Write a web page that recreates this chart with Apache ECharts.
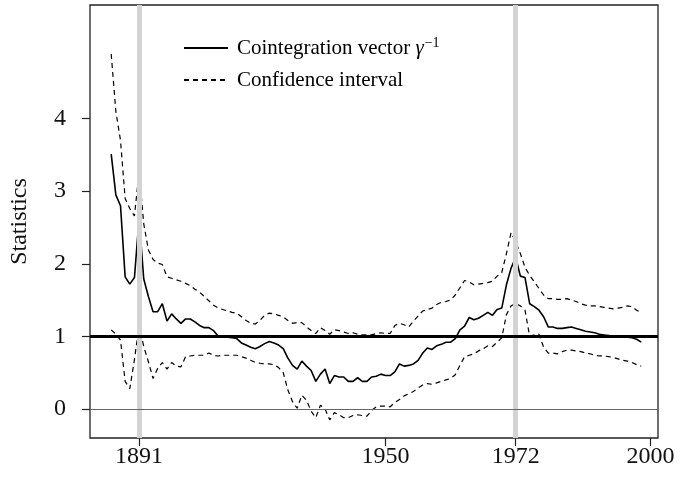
<!DOCTYPE html>
<html>
<head>
<meta charset="utf-8">
<script src="https://cdn.jsdelivr.net/npm/echarts@6/dist/echarts.min.js"></script>
<style>
  html, body { margin: 0; padding: 0; background: #fff; }
  #chart { width: 680px; height: 480px; }
</style>
</head>
<body>
<div id="chart"></div>
<script>
// x is the observation index (0 = first estimate); ticks are labelled with years
const tickIdx = [6, 59, 87, 116];
const tickText = ['1891', '1950', '1972', '2000'];
const yTicks = [0, 1, 2, 3, 4];
const breakIdx = [6, 87];

// cointegration vector gamma^-1
const gammaInv = [
  3.51, 2.95, 2.80, 1.82, 1.72, 1.81, 2.63, 1.79, 1.55, 1.34,
  1.34, 1.45, 1.21, 1.31, 1.24, 1.18, 1.24, 1.24, 1.20, 1.15,
  1.12, 1.12, 1.08, 1.00, 0.99, 0.99, 0.98, 0.97, 0.91, 0.88,
  0.85, 0.83, 0.86, 0.90, 0.93, 0.91, 0.88, 0.83, 0.70, 0.60,
  0.55, 0.66, 0.59, 0.53, 0.38, 0.48, 0.55, 0.35, 0.46, 0.44,
  0.44, 0.38, 0.38, 0.43, 0.38, 0.38, 0.44, 0.45, 0.48, 0.46,
  0.46, 0.51, 0.62, 0.59, 0.60, 0.62, 0.67, 0.77, 0.84, 0.82,
  0.87, 0.89, 0.92, 0.92, 0.97, 1.09, 1.14, 1.26, 1.23, 1.25,
  1.29, 1.33, 1.29, 1.37, 1.39, 1.71, 1.94, 2.09, 1.83, 1.81,
  1.45, 1.41, 1.36, 1.27, 1.13, 1.13, 1.11, 1.11, 1.12, 1.13,
  1.11, 1.09, 1.07, 1.06, 1.05, 1.03, 1.02, 1.01, 1.00, 1.00,
  1.00, 0.99, 0.98, 0.96, 0.92
];

// confidence band
const upper = [
  4.89, 4.10, 3.70, 2.90, 2.76, 2.66, 3.27, 2.55, 2.19, 2.06,
  2.01, 1.99, 1.82, 1.80, 1.78, 1.76, 1.73, 1.70, 1.65, 1.61,
  1.55, 1.49, 1.43, 1.39, 1.37, 1.35, 1.33, 1.32, 1.27, 1.22,
  1.18, 1.17, 1.22, 1.29, 1.32, 1.31, 1.29, 1.27, 1.22, 1.18,
  1.19, 1.19, 1.13, 1.08, 1.04, 1.12, 1.08, 1.03, 1.09, 1.08,
  1.06, 1.04, 1.05, 1.03, 1.02, 1.02, 1.02, 1.04, 1.05, 1.04,
  1.04, 1.15, 1.18, 1.16, 1.13, 1.21, 1.28, 1.35, 1.37, 1.39,
  1.44, 1.47, 1.48, 1.50, 1.57, 1.67, 1.77, 1.75, 1.71, 1.72,
  1.73, 1.74, 1.76, 1.83, 1.88, 2.14, 2.43, 2.30, 2.14, 1.95,
  1.84, 1.75, 1.66, 1.57, 1.52, 1.52, 1.51, 1.51, 1.52, 1.50,
  1.48, 1.45, 1.43, 1.42, 1.42, 1.41, 1.40, 1.39, 1.38, 1.39,
  1.40, 1.42, 1.41, 1.36, 1.33
];
const lower = [
  1.09, 1.03, 0.95, 0.38, 0.28, 0.68, 1.15, 0.86, 0.65, 0.42,
  0.56, 0.64, 0.55, 0.64, 0.59, 0.58, 0.72, 0.73, 0.74, 0.74,
  0.74, 0.77, 0.74, 0.73, 0.74, 0.74, 0.74, 0.74, 0.72, 0.70,
  0.67, 0.64, 0.63, 0.62, 0.62, 0.61, 0.57, 0.50, 0.26, 0.10,
  0.01, 0.19, 0.12, -0.03, -0.12, 0.05, 0.00, -0.15, -0.05, -0.08,
  -0.12, -0.12, -0.09, -0.08, -0.09, -0.10, -0.02, 0.03, 0.04, 0.04,
  0.03, 0.09, 0.13, 0.18, 0.21, 0.24, 0.29, 0.33, 0.35, 0.34,
  0.36, 0.38, 0.40, 0.42, 0.47, 0.60, 0.72, 0.74, 0.76, 0.80,
  0.83, 0.87, 0.86, 0.92, 0.98, 1.30, 1.42, 1.45, 1.42, 1.36,
  1.00, 1.02, 1.03, 0.85, 0.77, 0.77, 0.76, 0.79, 0.81, 0.81,
  0.80, 0.79, 0.77, 0.76, 0.74, 0.73, 0.73, 0.72, 0.71, 0.69,
  0.67, 0.66, 0.64, 0.61, 0.59
];

const serif = "'Liberation Serif', 'Times New Roman', serif";
const toPairs = (arr) => arr.map((v, i) => [i, v]);

const chart = echarts.init(document.getElementById('chart'));

chart.setOption({
  animation: false,
  backgroundColor: '#fff',
  grid: {
    left: 88, right: 22, top: 5, bottom: 42,
    show: true, borderColor: '#222', borderWidth: 1.3
  },
  legend: {
    data: ['Cointegration vector', 'Confidence interval'],
    orient: 'vertical',
    left: 183,
    top: 35,
    padding: 0,
    itemWidth: 44,
    itemHeight: 14,
    itemGap: 6,
    // hide the symbol dot, keep only the line sample
    itemStyle: { opacity: 0 },
    textStyle: {
      fontFamily: serif, fontSize: 21, lineHeight: 26, color: '#000',
      rich: {
        t: { fontFamily: serif, fontSize: 21, lineHeight: 26, padding: [0, 0, 0, 4] },
        g: { fontFamily: serif, fontSize: 21, fontStyle: 'italic', lineHeight: 26 },
        s: { fontFamily: serif, fontSize: 14, lineHeight: 26, padding: [0, 0, 10, 1] }
      }
    },
    formatter: (name) =>
      name === 'Cointegration vector'
        ? '{t|Cointegration vector }{g|γ}{s|−1}'
        : '{t|' + name + '}'
  },
  xAxis: {
    type: 'value',
    min: -4.56,
    max: 117.6,
    splitLine: { show: false },
    axisLine: { show: false, onZero: false },
    axisTick: { show: true, length: 8, customValues: tickIdx, lineStyle: { color: '#222', width: 1.2 } },
    axisLabel: {
      customValues: tickIdx,
      margin: 7,
      fontFamily: serif, fontSize: 24, color: '#111',
      formatter: (v) => tickText[tickIdx.indexOf(v)]
    }
  },
  yAxis: {
    type: 'value',
    min: -0.4,
    max: 5.565,
    name: 'Statistics',
    nameLocation: 'middle',
    nameGap: 58,
    nameTextStyle: { fontFamily: serif, fontSize: 24, color: '#111' },
    splitLine: { show: false },
    axisLine: { show: false, onZero: false },
    axisTick: { show: true, length: 8, customValues: yTicks, lineStyle: { color: '#222', width: 1.2 } },
    axisLabel: {
      customValues: yTicks,
      margin: 24,
      fontFamily: serif, fontSize: 24, color: '#111'
    }
  },
  series: [
    {
      // gray markers for the two break years, drawn underneath
      type: 'line',
      data: [],
      z: 1,
      silent: true,
      markLine: {
        symbol: 'none',
        silent: true,
        label: { show: false },
        lineStyle: { color: '#d3d3d3', width: 5, type: 'solid' },
        data: breakIdx.map((i) => ({ xAxis: i }))
      }
    },
    {
      type: 'line',
      data: [],
      z: 2,
      silent: true,
      markLine: {
        symbol: 'none',
        silent: true,
        label: { show: false },
        lineStyle: { color: '#666', width: 1, type: 'solid' },
        data: [{ yAxis: 0 }]
      }
    },
    {
      name: 'Confidence interval',
      type: 'line',
      data: toPairs(upper),
      symbol: 'none',
      z: 3,
      lineStyle: { color: '#000', width: 1.2, type: [5, 4] },
      itemStyle: { color: '#000' }
    },
    {
      name: 'Confidence interval',
      type: 'line',
      data: toPairs(lower),
      symbol: 'none',
      z: 3,
      lineStyle: { color: '#000', width: 1.2, type: [5, 4] },
      itemStyle: { color: '#000' }
    },
    {
      name: 'Cointegration vector',
      type: 'line',
      data: toPairs(gammaInv),
      symbol: 'none',
      z: 4,
      lineStyle: { color: '#000', width: 1.6 },
      itemStyle: { color: '#000' }
    },
    {
      type: 'line',
      data: [],
      z: 5,
      silent: true,
      markLine: {
        symbol: 'none',
        silent: true,
        label: { show: false },
        lineStyle: { color: '#000', width: 3, type: 'solid' },
        data: [{ yAxis: 1 }]
      }
    }
  ]
});
</script>
</body>
</html>
